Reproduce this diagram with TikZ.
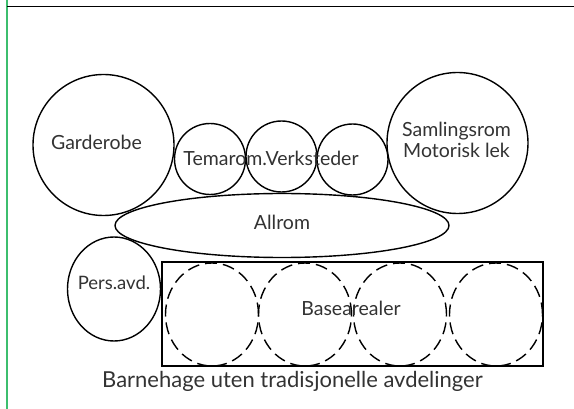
\documentclass[tikz,border=0pt]{standalone}
\usepackage{fontspec}
\usetikzlibrary{shapes.geometric}
\setmainfont{Lato}
\begin{document}
\begin{tikzpicture}[x=1pt,y=-1pt,
  room/.style={draw=black,line width=1.4pt,fill=white,inner sep=0pt},
  dashroom/.style={draw=black,line width=1.4pt,dash pattern=on 12pt off 6pt,inner sep=0pt},
  lbl/.style={font=\fontsize{19.5}{20.5}\selectfont,text=black!80,align=center},
  captxt/.style={font=\fontsize{22}{24}\selectfont,text=black!80}]
\useasboundingbox (0,0) rectangle (574,409);
\fill[white] (0,0) rectangle (574,409);
% frame
\coordinate (gt) at (7,0); \coordinate (gb) at (7,409);
\coordinate (hl) at (7,6.5); \coordinate (hr) at (574,6.5);
\draw[draw={rgb,255:red,60;green,190;blue,110},line width=1.6pt] (gt) -- (gb);
\draw[line width=1.8pt] (hl) -- (hr);
% big circles
\node[room,circle,minimum size=141pt] (garderobe) at (103.5,145) {};
\node[room,circle,minimum size=141pt] (samling) at (457.5,143) {};
% small circles
\node[room,circle,minimum size=71pt] (c1) at (210,159) {};
\node[room,circle,minimum size=71pt] (c2) at (281.5,156.5) {};
\node[room,circle,minimum size=71pt] (c3) at (352.5,159.5) {};
% base area rectangle and dashed rooms
\node[room,rectangle,minimum width=381pt,minimum height=104pt] (base) at (352.5,314) {};
\node[dashroom,ellipse,minimum width=93pt,minimum height=103pt] (b1) at (212,314.5) {};
\node[dashroom,ellipse,minimum width=93pt,minimum height=103pt] (b2) at (305,314.5) {};
\node[dashroom,ellipse,minimum width=93pt,minimum height=103pt] (b3) at (400,314.5) {};
\node[dashroom,ellipse,minimum width=93pt,minimum height=103pt] (b4) at (496,314.5) {};
% Pers.avd.
\node[room,ellipse,minimum width=93pt,minimum height=104pt] (pers) at (114,289) {};
% Allrom
\node[room,ellipse,minimum width=334pt,minimum height=64pt] (allrom) at (282,225.5) {};
% labels
\node[lbl] at (garderobe.center) [xshift=-7pt,yshift=3pt] {Garderobe};
\node[lbl] at (samling.center) [xshift=-1pt,yshift=3pt] {Samlingsrom\\Motorisk lek};
\node[lbl] at (271,158) {Temarom.Verksteder};
\node[lbl] at (allrom.center) [yshift=3pt] {Allrom};
\node[lbl,font=\fontsize{18.5}{20}\selectfont] at (pers.center) [yshift=6pt] {Pers.avd.};
\node[lbl] at (351,308) {Basearealer};
\node[captxt] at (292.5,381) {Barnehage uten tradisjonelle avdelinger};
\end{tikzpicture}
\end{document}
